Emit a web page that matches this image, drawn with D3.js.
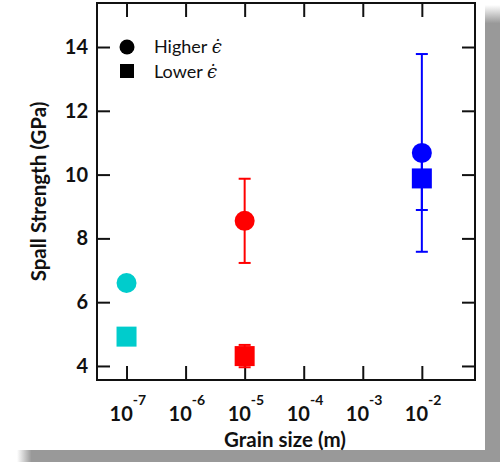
<!DOCTYPE html>
<html>
<head>
<meta charset="utf-8">
<script src="https://cdn.jsdelivr.net/npm/d3@7"></script>
<style>
  body { margin: 0; background: #fff; }
  svg { display: block; }
</style>
</head>
<body>
<div id="chart"></div>
<script>
"use strict";

// data
var grainSize = [1e-7, 1e-5, 1e-2];
var colors = ["#00cccc", "#ff0000", "#0000ff"];
var higherVals = [6.6, 8.55, 10.68];
var higherErr = [0, 1.32, 3.1];
var lowerVals = [4.92, 4.31, 9.88];
var lowerErr = [0, 0.35, 0.99];
var xTickExp = [-7, -6, -5, -4, -3, -2];
var yTicks = [4, 6, 8, 10, 12, 14];
var legendLabels = ["Higher ", "Lower "];

var W = 500, H = 462;
var frame = {left: 97, right: 475, top: 3, bottom: 380};

var svg = d3.select("#chart").append("svg")
    .attr("width", W)
    .attr("height", H);

// drop shadow of the card
var defs = svg.append("defs");
var gv = defs.append("linearGradient").attr("id", "shV")
    .attr("x1", 0).attr("y1", 0).attr("x2", 0).attr("y2", 1);
gv.append("stop").attr("offset", 0).attr("stop-color", "#999").attr("stop-opacity", 0);
gv.append("stop").attr("offset", 0.04).attr("stop-color", "#999").attr("stop-opacity", 1);
var gh = defs.append("linearGradient").attr("id", "shH")
    .attr("x1", 0).attr("y1", 0).attr("x2", 1).attr("y2", 0);
gh.append("stop").attr("offset", 0).attr("stop-color", "#999").attr("stop-opacity", 0);
gh.append("stop").attr("offset", 0.03).attr("stop-color", "#999").attr("stop-opacity", 1);

svg.append("rect").attr("x", 485).attr("y", 5).attr("width", 15).attr("height", H - 5)
    .attr("fill", "url(#shV)");
svg.append("rect").attr("x", 17).attr("y", 450).attr("width", W - 17).attr("height", 12)
    .attr("fill", "url(#shH)");
svg.append("rect").attr("x", 485).attr("y", 450).attr("width", 15).attr("height", 12)
    .attr("fill", "#999");

var x = d3.scaleLog()
    .domain([Math.pow(10, -7.5), Math.pow(10, -1.1)])
    .range([frame.left, frame.right]);
var y = d3.scaleLinear()
    .domain([3.56, 15.38])
    .range([frame.bottom, frame.top]);

var xTickVals = xTickExp.map(function(e){ return Math.pow(10, e); });

var boldFont = "Lato, 'Open Sans', sans-serif";

// axes with inward ticks on all four sides
function styleAxis(g){
    g.select(".domain").remove();
    g.selectAll(".tick line").attr("stroke", "#111").attr("stroke-width", 2);
    g.selectAll(".tick text").remove();
}
svg.append("g").attr("transform", "translate(0," + frame.bottom + ")")
    .call(d3.axisBottom(x).tickValues(xTickVals).tickSize(-14)).call(styleAxis);
svg.append("g").attr("transform", "translate(0," + frame.top + ")")
    .call(d3.axisTop(x).tickValues(xTickVals).tickSize(-14)).call(styleAxis);
svg.append("g").attr("transform", "translate(" + frame.left + ",0)")
    .call(d3.axisLeft(y).tickValues(yTicks).tickSize(-13)).call(styleAxis);
svg.append("g").attr("transform", "translate(" + frame.right + ",0)")
    .call(d3.axisRight(y).tickValues(yTicks).tickSize(-13)).call(styleAxis);

svg.append("rect")
    .attr("x", frame.left).attr("y", frame.top)
    .attr("width", frame.right - frame.left).attr("height", frame.bottom - frame.top)
    .attr("fill", "none").attr("stroke", "#111").attr("stroke-width", 2);

// tick labels
svg.selectAll("text.ylab").data(yTicks).enter()
    .append("text")
        .attr("class", "ylab")
        .attr("x", frame.left - 9)
        .attr("y", function(d){ return y(d) + 7; })
        .attr("text-anchor", "end")
        .attr("font-family", boldFont)
        .attr("font-weight", "bold")
        .attr("font-size", 20)
        .attr("fill", "#111")
        .text(function(d){ return d; });

var xl = svg.selectAll("text.xlab").data(xTickExp).enter()
    .append("text")
        .attr("class", "xlab")
        .attr("x", function(d){ return x(Math.pow(10, d)) - 17; })
        .attr("y", 421)
        .attr("font-family", boldFont)
        .attr("font-weight", "bold")
        .attr("font-size", 20)
        .attr("fill", "#111");
xl.append("tspan").text("10");
xl.append("tspan").attr("dy", -16).attr("font-size", 14).text(function(d){ return "-" + (-d); });

// axis titles
svg.append("text")
    .attr("transform", "translate(46," + ((frame.top + frame.bottom) / 2) + ") rotate(-90)")
    .attr("text-anchor", "middle")
    .attr("font-family", boldFont)
    .attr("font-weight", "bold")
    .attr("font-size", 20.5)
    .attr("fill", "#111")
    .text("Spall Strength (GPa)");
svg.append("text")
    .attr("x", 285).attr("y", 447)
    .attr("text-anchor", "middle")
    .attr("font-family", boldFont)
    .attr("font-weight", "bold")
    .attr("font-size", 20.5)
    .attr("fill", "#111")
    .text("Grain size (m)");

// error bars
function errorBars(vals, errs){
    var idx = d3.range(vals.length).filter(function(i){ return errs[i] > 0; });
    var g = svg.append("g");
    idx.forEach(function(i){
        var cx = x(grainSize[i]);
        var top = y(vals[i] + errs[i]), bot = y(vals[i] - errs[i]);
        g.append("line").attr("x1", cx).attr("x2", cx).attr("y1", top).attr("y2", bot)
            .attr("stroke", colors[i]).attr("stroke-width", 2);
        [top, bot].forEach(function(yy){
            g.append("line").attr("x1", cx - 6).attr("x2", cx + 6).attr("y1", yy).attr("y2", yy)
                .attr("stroke", colors[i]).attr("stroke-width", 2);
        });
    });
}
errorBars(higherVals, higherErr);
errorBars(lowerVals, lowerErr);

// markers
svg.selectAll("rect.lower").data(lowerVals).enter()
    .append("rect")
        .attr("class", "lower")
        .attr("x", function(d, i){ return x(grainSize[i]) - 10; })
        .attr("y", function(d){ return y(d) - 10; })
        .attr("width", 20)
        .attr("height", 20)
        .attr("fill", function(d, i){ return colors[i]; });
svg.selectAll("circle.higher").data(higherVals).enter()
    .append("circle")
        .attr("class", "higher")
        .attr("cx", function(d, i){ return x(grainSize[i]); })
        .attr("cy", function(d){ return y(d); })
        .attr("r", 10)
        .attr("fill", function(d, i){ return colors[i]; });

// legend
var lg = svg.append("g");
lg.append("circle").attr("cx", 127).attr("cy", 47).attr("r", 7.5).attr("fill", "#000");
lg.append("rect").attr("x", 120).attr("y", 64).attr("width", 14).attr("height", 14).attr("fill", "#000");
legendLabels.forEach(function(t, i){
    var tx = lg.append("text")
        .attr("x", 154).attr("y", 53 + i * 25)
        .attr("font-family", "Lato, 'Open Sans', sans-serif")
        .attr("font-size", 18)
        .attr("fill", "#111");
    tx.append("tspan").text(t);
    tx.append("tspan").attr("font-family", "'DejaVu Serif', serif").attr("font-style", "italic")
        .text("\u03F5\u0307");
});
</script>
</body>
</html>
